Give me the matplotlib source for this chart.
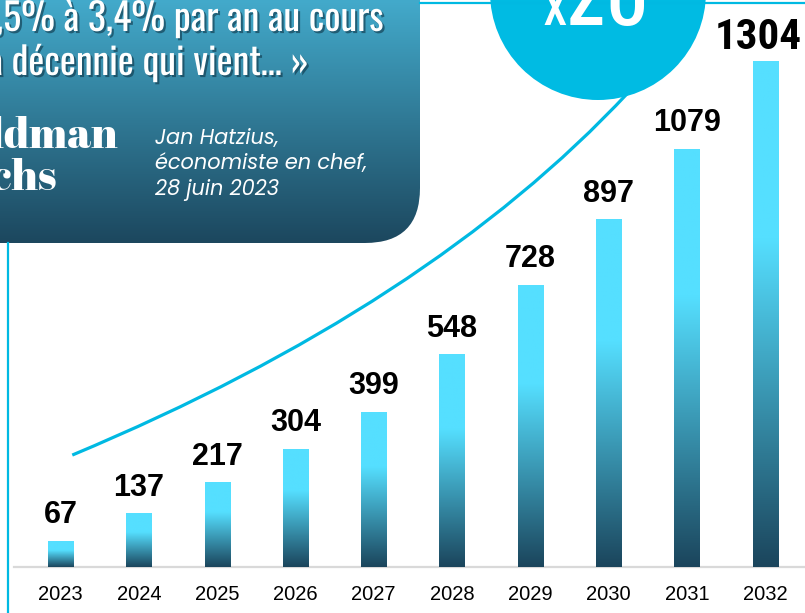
import matplotlib
matplotlib.use('Agg')
import matplotlib.pyplot as plt
import matplotlib.patheffects as pe
import numpy as np
from matplotlib.colors import LinearSegmentedColormap
from matplotlib.patches import Circle, FancyBboxPatch, PathPatch
from matplotlib.path import Path

# chart data
years = ['2023', '2024', '2025', '2026', '2027', '2028', '2029', '2030', '2031', '2032']
values = [67, 137, 217, 304, 399, 548, 728, 897, 1079, 1304]

# slide texts
quote_lines = ['1,5% à 3,4% par an au cours', 'la décennie qui vient… »']
logo_lines = ['Goldman', 'Sachs']
author_lines = ['Jan Hatzius,', 'économiste en chef,', '28 juin 2023']
badge_x, badge_num = 'x', '20'

# growth arrow (start, control, end) in bar units / values
trend_x = [0.15, 4.71, 7.25]
trend_y = [289, 674, 1225]

CYAN = '#00b9e2'

fig = plt.figure(figsize=(8.05, 6.13), dpi=100)
ax = fig.add_axes([0, 0, 1, 1])

bar_cmap = LinearSegmentedColormap.from_list(
    'bar', [(0, '#1b455c'), (0.65, '#55dfff'), (1, '#55dfff')])
grad = np.linspace(0, 1, 256).reshape(-1, 1)
w = 0.32
for i, v in enumerate(values):
    ax.imshow(grad, extent=[i - w / 2, i + w / 2, 0, v], origin='lower',
              cmap=bar_cmap, aspect='auto', interpolation='bilinear', zorder=2)
    if i == len(values) - 1:
        ax.annotate(str(v), (i, v), xytext=(-5, 9), textcoords='offset points',
                    ha='center', va='baseline', fontsize=31, fontweight='bold',
                    family=['Arial Narrow', 'Roboto Condensed'], color='black', zorder=4)
    else:
        ax.annotate(str(v), (i, v), xytext=(0, 13), textcoords='offset points',
                    ha='center', va='baseline', fontsize=22, fontweight='bold',
                    family='Liberation Sans', color='black', zorder=4)
    ax.text(i, -72, years[i], ha='center', va='center', fontsize=14.5,
            family='Liberation Sans', color='black')

ax.plot([-0.6, 9.6], [-1, -1], color='#d9d9d9', lw=1.6, zorder=1)

curve = Path(list(zip(trend_x, trend_y)), [Path.MOVETO, Path.CURVE3, Path.CURVE3])
ax.add_patch(PathPatch(curve, facecolor='none', edgecolor=CYAN, lw=2.3, zorder=3))

ax.set_xlim(-0.773, 9.508)
ax.set_ylim(-118.8, 1464)
ax.axis('off')

# decoration layer in pixel units
deco = fig.add_axes([0, 0, 1, 1], zorder=5)
deco.axis('off')

deco.plot([8, 8], [243, 613], color=CYAN, lw=1.6)
deco.plot([420, 805], [3, 3], color=CYAN, lw=1.6)

box = FancyBboxPatch((-100, -100), 520, 343, boxstyle='round,pad=0,rounding_size=55',
                     transform=deco.transData, facecolor='none', edgecolor='none')
box_cmap = LinearSegmentedColormap.from_list('box', ['#43aacb', '#1c475e'])
im = deco.imshow(grad, extent=[0, 420, 243, 0], origin='upper', cmap=box_cmap,
                 aspect='auto', interpolation='bilinear')
im.set_clip_path(box)

shadow = [pe.withSimplePatchShadow(offset=(1.5, -1.5), shadow_rgbFace='#0d3345', alpha=0.6)]
deco.text(383, 31, quote_lines[0], ha='right', va='baseline', fontsize=27.3,
          family='Oswald', color='white', path_effects=shadow)
deco.text(309, 75, quote_lines[1], ha='right', va='baseline', fontsize=27.3,
          family='Oswald', color='white', path_effects=shadow)

deco.text(118, 148, logo_lines[0], ha='right', va='baseline', fontsize=31,
          family=['Abril Fatface', 'Liberation Serif'], color='white')
deco.text(57, 190, logo_lines[1], ha='right', va='baseline', fontsize=31,
          family=['Abril Fatface', 'Liberation Serif'], color='white')

for k, line in enumerate(author_lines):
    deco.text(155, 144 + 25.5 * k, line, ha='left', va='baseline', fontsize=15,
              style='italic', family='Poppins', color='white')

deco.add_patch(Circle((598, -8), 108, facecolor='#00bbe3', edgecolor='none'))
deco.text(566, 25, badge_x, ha='right', va='baseline', fontsize=42, fontweight='bold',
          family='Oswald', color='white')
deco.text(567, 25, badge_num, ha='left', va='baseline', fontsize=60, fontweight='bold',
          family='Oswald', color='white')

deco.set_xlim(0, 805)
deco.set_ylim(613, 0)

fig.savefig('out.png', dpi=100)
